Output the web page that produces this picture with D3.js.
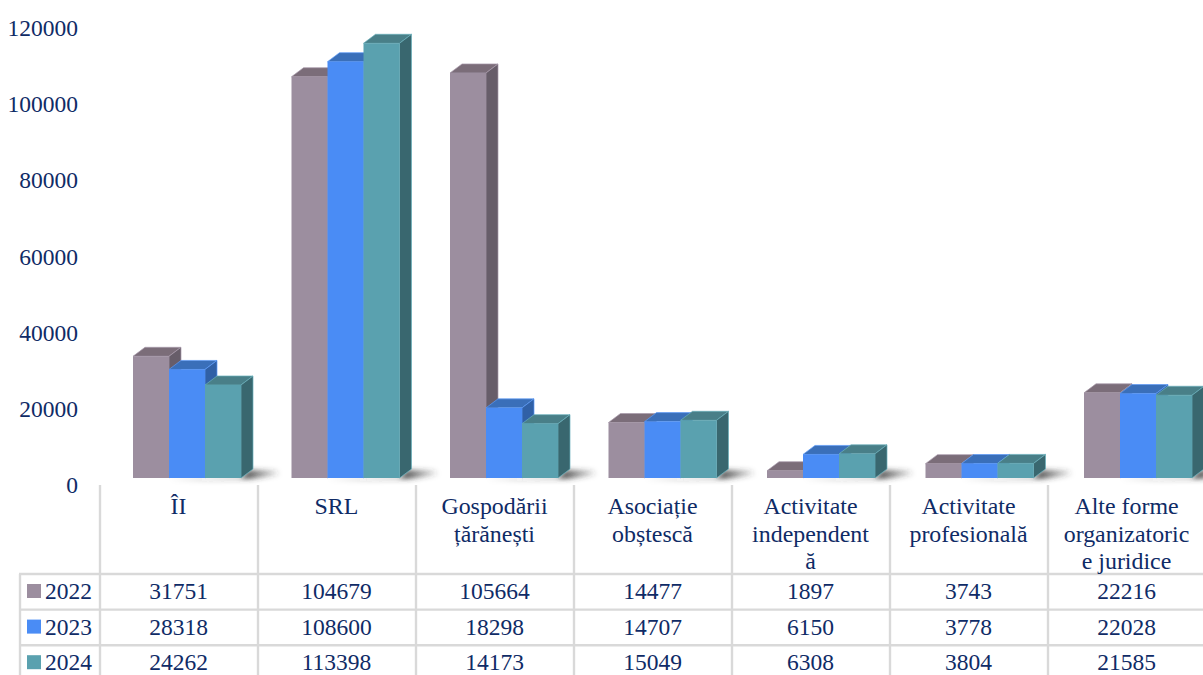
<!DOCTYPE html>
<html>
<head>
<meta charset="utf-8">
<script src="https://cdn.jsdelivr.net/npm/d3@7"></script>
<style>
  html, body { margin: 0; padding: 0; background: #fff; overflow: hidden; }
  text { font-family: "Liberation Serif", serif; fill: #0f2b66; font-size: 23.5px; }
  text.head { font-size: 23.9px; }
</style>
</head>
<body>
<svg id="chart" width="1203" height="675"></svg>
<script>
const categories = ['ÎI', 'SRL', 'Gospodării țărănești', 'Asociație obștescă', 'Activitate independentă', 'Activitate profesională', 'Alte forme organizatorice juridice'];
// wrapped as in the picture, words break mid-way in the narrow cells
const categoryLines = [['ÎI'], ['SRL'], ['Gospodării', 'țărănești'], ['Asociație', 'obștescă'], ['Activitate', 'independent', 'ă'], ['Activitate', 'profesională'], ['Alte forme', 'organizatoric', 'e juridice']];
const years = ['2022', '2023', '2024'];
const values2022 = [31751, 104679, 105664, 14477, 1897, 3743, 22216];
const values2023 = [28318, 108600, 18298, 14707, 6150, 3778, 22028];
const values2024 = [24262, 113398, 14173, 15049, 6308, 3804, 21585];
const series = [values2022, values2023, values2024];
const yTicks = [0, 20000, 40000, 60000, 80000, 100000, 120000];

const colors = {
  front: ['#9c8e9f', '#4a8cf5', '#5aa1af'],
  top: ['#7b6d79', '#3a6fb9', '#497f88'],
  side: ['#675d69', '#3060a6', '#39676f'],
  edge: ['#a89aab', '#5a9af8', '#68b0bc']
};

const svg = d3.select('#chart');
const defs = svg.append('defs');
defs.append('filter').attr('id', 'blur').attr('x', '-40%').attr('y', '-150%').attr('width', '180%').attr('height', '400%')
  .append('feGaussianBlur').attr('stdDeviation', 2.6);
const fade = defs.append('linearGradient').attr('id', 'fade');
fade.append('stop').attr('offset', '0.7').attr('stop-color', '#333').attr('stop-opacity', 0.8);
fade.append('stop').attr('offset', '1').attr('stop-color', '#333').attr('stop-opacity', 0);

const y = d3.scaleLinear().domain([0, 120000]).range([478, 18]);
// the tick labels run on a slightly tighter scale than the bars in the picture
const yLabel = d3.scaleLinear().domain([0, 120000]).range([493, 36]);
const x = d3.scaleBand().domain(categories).range([100, 1209.5]);
const xCell = d3.scaleBand().domain(categories).range([100, 1206]);
const tableLeft = 20, tableTop = 574, rowH = 35.6, bottom = 675;
const depthX = 12, depthY = 9;
const barW = 36, barOffset = 33;

svg.append('g').selectAll('text').data(yTicks).enter().append('text')
  .attr('x', 78).attr('y', d => yLabel(d))
  .attr('text-anchor', 'end')
  .text(d => d);

// ground shadows first so the bars sit on top
const groups = svg.append('g').selectAll('g').data(categories).enter().append('g')
  .attr('transform', d => `translate(${x(d) + barOffset},0)`);

groups.append('polygon')
  .attr('points', `${barW},${y(0) + 2} ${barW * 3 + 10},${y(0) + 1} ${barW * 3 + 40},${y(0) - 3} ${barW * 3 + 36},${y(0) - 8} ${barW * 3 + 8},${y(0) - 8} ${barW * 3},${y(0)}`)
  .attr('fill', 'url(#fade)')
  .attr('filter', 'url(#blur)');

series.forEach((vals, s) => {
  const bar = groups.append('g');
  const left = s * barW;
  const right = left + barW;
  const top = (d, i) => y(vals[i]);

  bar.append('polygon')
    .attr('points', (d, i) => `${left},${top(d, i)} ${left + depthX},${top(d, i) - depthY} ${right + depthX},${top(d, i) - depthY} ${right},${top(d, i)}`)
    .attr('fill', colors.top[s]).attr('stroke', colors.edge[s]).attr('stroke-width', 0.7);
  bar.append('polygon')
    .attr('points', (d, i) => `${right},${top(d, i)} ${right + depthX},${top(d, i) - depthY} ${right + depthX},${y(0) - depthY} ${right},${y(0)}`)
    .attr('fill', colors.side[s]).attr('stroke', colors.edge[s]).attr('stroke-width', 0.7);
  bar.append('rect')
    .attr('x', left).attr('y', (d, i) => top(d, i))
    .attr('width', barW).attr('height', (d, i) => y(0) - top(d, i))
    .attr('fill', colors.front[s]);
});

// data table grid
const gridColor = '#d9d9d9';
const grid = svg.append('g').attr('stroke', gridColor).attr('stroke-width', 2.4);
const colEdges = categories.map(d => xCell(d));
grid.selectAll('line.col').data(colEdges).enter().append('line')
  .attr('class', 'col')
  .attr('x1', d => d).attr('x2', d => d)
  .attr('y1', 485).attr('y2', bottom);
grid.append('line').attr('x1', tableLeft).attr('x2', tableLeft).attr('y1', tableTop).attr('y2', bottom);
grid.selectAll('line.row').data(d3.range(3)).enter().append('line')
  .attr('class', 'row')
  .attr('x1', tableLeft - 1).attr('x2', 1203)
  .attr('y1', d => tableTop + d * rowH).attr('y2', d => tableTop + d * rowH);

// category header cells
const heads = svg.append('g').selectAll('text').data(categories).enter().append('text')
  .attr('class', 'head')
  .attr('text-anchor', 'middle');
heads.selectAll('tspan').data((d, i) => categoryLines[i].map(line => ({ line, d }))).enter().append('tspan')
  .attr('x', t => xCell(t.d) + xCell.bandwidth() / 2 - 0.5)
  .attr('y', (t, j) => 514 + j * 27.5)
  .text(t => t.line);

// legend keys and values
years.forEach((yr, r) => {
  const rowY = tableTop + r * rowH + 25;
  svg.append('rect').attr('x', 27).attr('y', rowY - 15).attr('width', 14).attr('height', 14).attr('fill', colors.front[r]);
  svg.append('text').attr('x', 45).attr('y', rowY).text(yr);
  svg.append('g').selectAll('text').data(series[r]).enter().append('text')
    .attr('x', (d, i) => xCell(categories[i]) + xCell.bandwidth() / 2 - 0.5)
    .attr('y', rowY)
    .attr('text-anchor', 'middle')
    .text(d => d);
});
</script>
</body>
</html>
